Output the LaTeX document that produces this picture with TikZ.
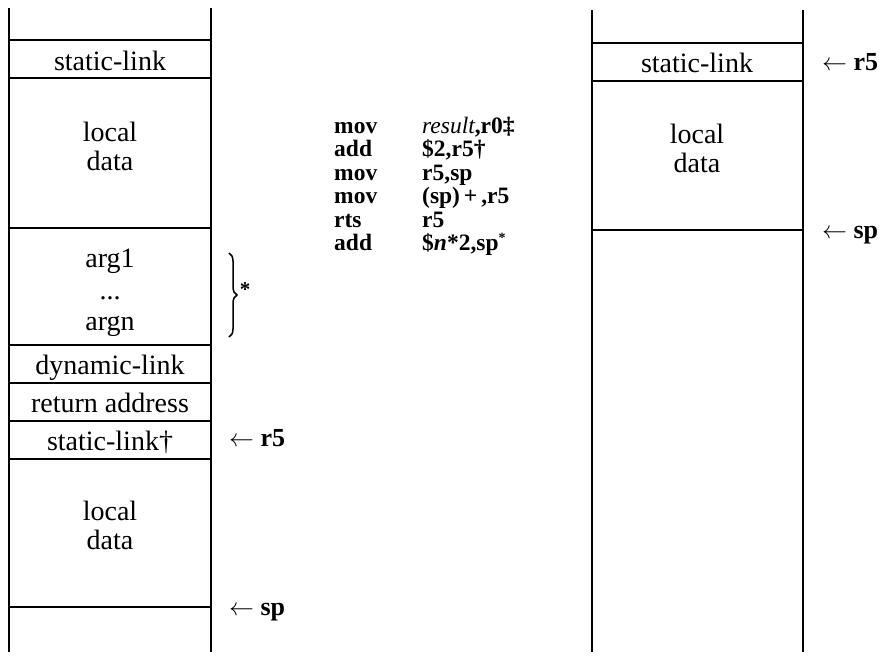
\documentclass[tikz,border=0pt]{standalone}
\usepackage{fontspec}
\setmainfont{Liberation Serif}
\usetikzlibrary{decorations.pathreplacing}
\begin{document}
\begin{tikzpicture}[x=1pt,y=-1pt,
  frame/.style={line width=1.7pt},
  lbl/.style={font=\fontsize{28}{30}\selectfont, anchor=base, inner sep=0pt},
  code/.style={font=\fontsize{23.5}{25}\selectfont\bfseries, anchor=base west, inner sep=0pt},
  ptr/.style={font=\fontsize{26}{28}\selectfont\bfseries, anchor=base west, inner sep=0pt}]
\useasboundingbox (0,0) rectangle (891,656);
% left stack
\draw[frame] (9,8) -- (9,652) (211,8) -- (211,652);
\foreach \y in {40,78,228,345,383,421,459,607} \draw[frame] (9,\y) -- (211,\y);
\node[lbl] (lsl) at (110,70) {static-link};
\node[lbl] (ll1) at (110,141) {local};
\node[lbl] (ld1) at (110,170) {data};
\node[lbl] (la1) at (110,267) {arg1};
\node[lbl] (ldots) at (110,299) {...};
\node[lbl] (lan) at (110,330) {argn};
\node[lbl] (ldl) at (110,374) {dynamic-link};
\node[lbl] (lra) at (110,412) {return address};
\node[lbl] (lsl2) at (110,450) {static-link†};
\node[lbl] (ll2) at (110,520) {local};
\node[lbl] (ld2) at (110,549) {data};
% brace
\draw[line width=1.5pt, decorate, decoration={brace, amplitude=8pt}] (229,253) -- (229,337);
\node[font=\fontsize{21}{22}\selectfont\bfseries, inner sep=0pt] (star) at (245,290) {*};
% pointers left
\node[ptr] (pr5a) at (229,446) {$\leftarrow$ r5};
\node[ptr] (pspa) at (229,615) {$\leftarrow$ sp};
% code
\foreach \i/\op/\arg in {0/mov/{{\mdseries\itshape result},r0‡},
  1/add/{\$2,r5†},
  2/mov/{r5,sp},
  3/mov/{(sp)\,+\,,r5},
  4/rts/{r5},
  5/add/{\$\textit{n}*2,sp\raisebox{8pt}{\fontsize{14}{14}\selectfont*}}}{
  \node[code] (op\i) at (334,133+23.5*\i) {\op};
  \node[code] (arg\i) at (422,133+23.5*\i) {\arg};
}
% right stack
\draw[frame] (592,10) -- (592,652) (803,10) -- (803,652);
\foreach \y in {43,81,230} \draw[frame] (592,\y) -- (803,\y);
\node[lbl] (rsl) at (697,72) {static-link};
\node[lbl] (rl) at (697,143) {local};
\node[lbl] (rd) at (697,172) {data};
\node[ptr] (pr5b) at (822,70) {$\leftarrow$ r5};
\node[ptr] (pspb) at (822,238) {$\leftarrow$ sp};
\end{tikzpicture}
\end{document}
